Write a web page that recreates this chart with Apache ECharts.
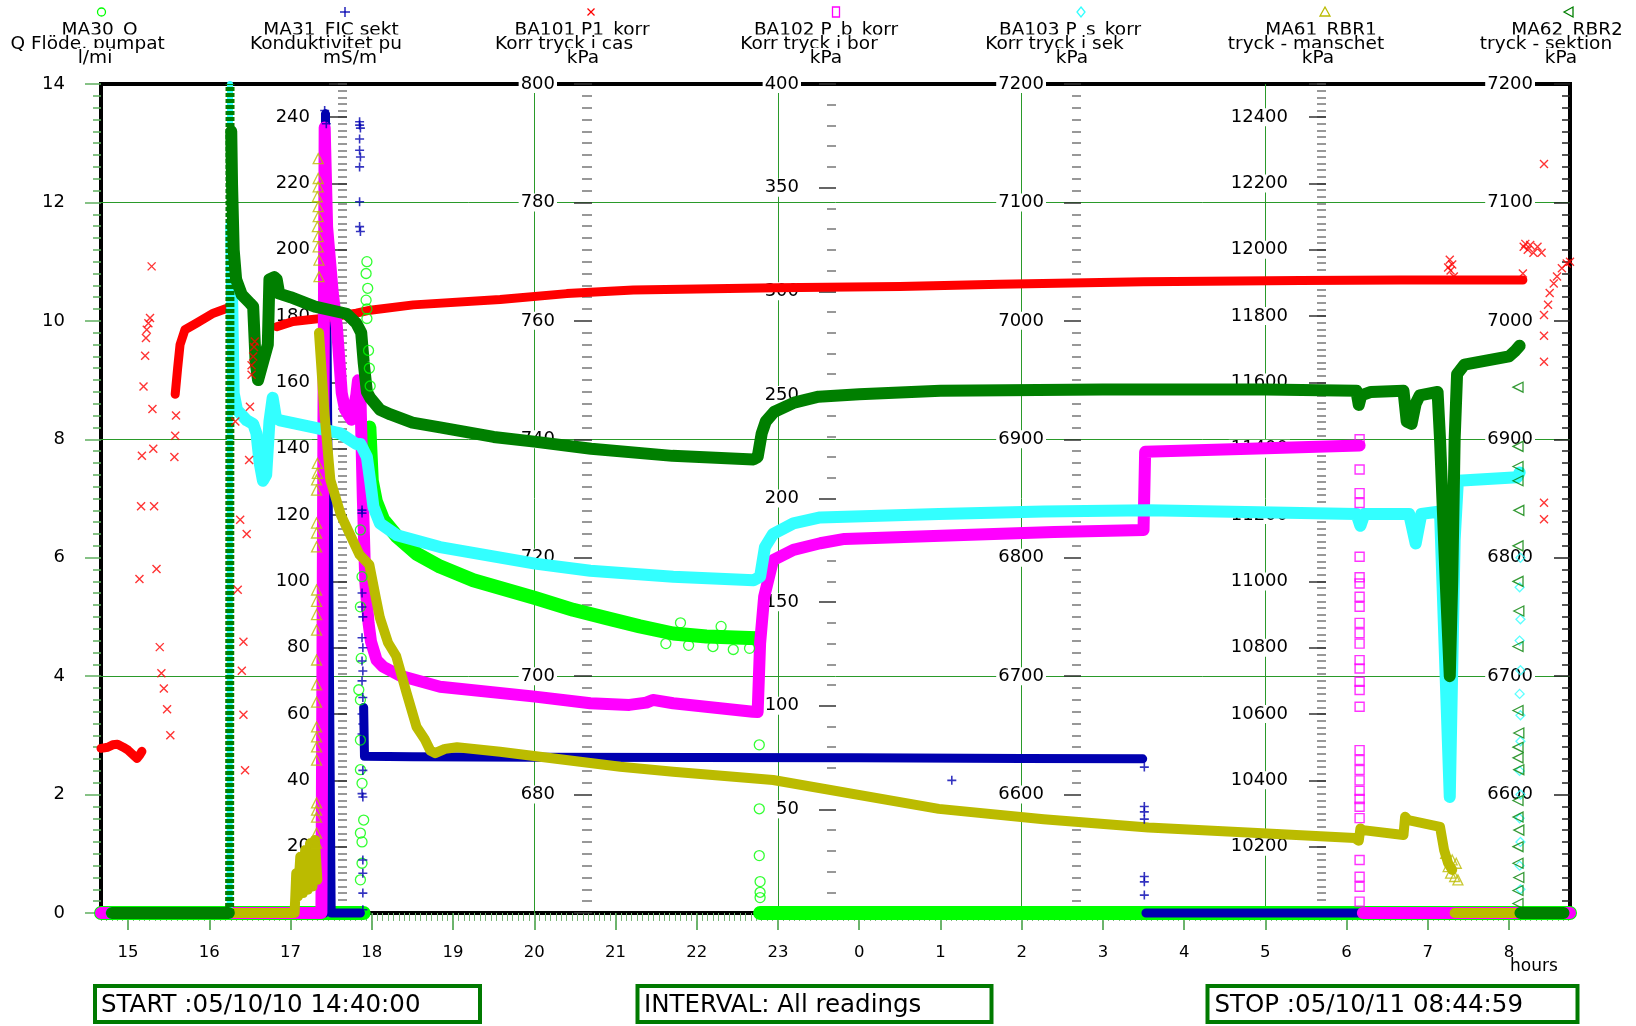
<!DOCTYPE html>
<html>
<head>
<meta charset="utf-8">
<script src="https://cdn.jsdelivr.net/npm/echarts@6.0.0/dist/echarts.min.js"></script>
<style>
html,body{margin:0;padding:0;background:#fff;}
#chart{width:1636px;height:1026px;}
</style>
</head>
<body>
<div id="chart"></div>
<script>
// ================= DATA =================
// time axis in decimal hours since 05/10/10 00:00 (next day = 24 + h)
const X_MIN = 14 + 40 / 60;   // START 05/10/10 14:40:00
const X_MAX = 32 + 45 / 60;   // STOP  05/10/11 08:44:59
const hourTicks = [15, 16, 17, 18, 19, 20, 21, 22, 23, 24, 25, 26, 27, 28, 29, 30, 31, 32];
const gridHours = [17, 20, 23, 26, 29, 32];
const minorTickStepMin = 4;

// MA30 Q  (l/min)
const ma30Line = [[14.667, 0], [17.90, 0], [17.92, null], [17.97, 8.2], [18.00, 7.3], [18.05, 6.95], [18.14, 6.64], [18.31, 6.36], [18.55, 6.07], [18.84, 5.85], [19.25, 5.62], [20.01, 5.32], [20.48, 5.12], [20.89, 4.98], [21.30, 4.84], [21.71, 4.72], [22.12, 4.67], [22.74, 4.64], [22.76, null], [22.78, 0], [32.75, 0]];
const ma30Pts = [[17.94, 11.0], [17.93, 10.8], [17.95, 10.55], [17.93, 10.35], [17.94, 10.2], [17.94, 10.04], [17.96, 9.5], [17.97, 9.2], [17.98, 8.9], [17.86, 6.47], [17.88, 5.68], [17.86, 5.17], [17.87, 4.3], [17.84, 3.77], [17.86, 3.6], [17.86, 2.92], [17.86, 2.42], [17.88, 2.19], [17.9, 1.57], [17.86, 1.35], [17.88, 1.2], [17.88, 0.84], [17.86, 0.56], [22.77, 2.84], [22.77, 1.76], [22.77, 0.97], [22.78, 0.53], [22.78, 0.35], [22.78, 0.26],
  [21.62, 4.55], [21.9, 4.52], [22.2, 4.5], [22.45, 4.45], [22.65, 4.47], [21.8, 4.9], [22.3, 4.84]];

// MA31 FIC sekt  (mS/m)
const ma31Line = [[14.667, 0], [17.42, 0], [17.43, 241], [17.50, 0], [17.86, 0], [17.87, null], [17.90, 62], [17.91, 47.3], [18.5, 47.1], [20, 47], [22, 46.9], [24, 46.8], [26, 46.6], [27.49, 46.5], [27.50, null], [27.53, 0], [32.75, 0]];
const ma31Pts = [[17.43, 241], [17.44, 238], [17.42, 242], [17.85, 238.6], [17.85, 237.6], [17.86, 236.7], [17.85, 233.4], [17.85, 230], [17.86, 228], [17.85, 225], [17.85, 214.5], [17.85, 207], [17.86, 205.5], [17.88, 121.5], [17.88, 120.6], [17.88, 96.5], [17.88, 92.3], [17.89, 89.3], [17.88, 83], [17.89, 80], [17.88, 76], [17.89, 73], [17.88, 70], [17.89, 65], [17.88, 60], [17.89, 57], [17.88, 54], [17.89, 43], [17.88, 36], [17.89, 35], [17.89, 16], [17.89, 12], [17.89, 6], [17.89, 1], [25.14, 40], [27.51, 44], [27.51, 32.1], [27.51, 30.5], [27.51, 28.3], [27.51, 11], [27.51, 9.4], [27.51, 5.4]];

// BA101 P1_korr  (kPa)
const ba101Line = [[14.667, 687.8], [14.75, 688.0], [14.81, 688.4], [14.87, 688.5], [14.94, 688.0], [15.00, 687.5], [15.07, 686.6], [15.11, 686.1], [15.14, 686.6], [15.17, 687.3], [15.18, null],
  [15.58, 747.6], [15.61, 752], [15.64, 756], [15.70, 758.5], [15.84, 759.6], [16.05, 761.3], [16.21, 762.1], [16.22, null],
  [16.83, 759], [17.03, 759.9], [17.44, 760.5], [17.81, 761.3], [17.98, 761.8], [18.51, 762.7], [19.58, 763.6], [20.4, 764.6], [21.22, 765.2], [22.98, 765.6], [24.5, 765.8], [25.73, 766.2], [27.5, 766.6], [29.43, 766.8], [30.66, 766.9], [32.17, 766.9]];
const ba101Pts = [[15.29, 769.2], [15.27, 760.5], [15.25, 759.6], [15.23, 758.5], [15.22, 757.1], [15.21, 754.1], [15.19, 748.9], [15.30, 745.1], [15.17, 737.2], [15.16, 728.7], [15.14, 716.4],
  [15.31, 738.4], [15.32, 728.7], [15.35, 718.1], [15.39, 704.9], [15.41, 700.5], [15.44, 697.9], [15.48, 694.4], [15.52, 690],
  [15.58, 740.6], [15.59, 744], [15.57, 737],
  [16.32, 743], [16.5, 745.5], [16.52, 750.9], [16.54, 754], [16.55, 755.6], [16.56, 756.5], [16.49, 736.5], [16.38, 726.4], [16.35, 714.6], [16.42, 705.8], [16.4, 700.9], [16.42, 693.5], [16.44, 684.1], [16.46, 724], [16.52, 752.5],
  [31.25, 769], [31.27, 770.3], [31.28, 768.5], [31.3, 769.5], [31.32, 767.5],
  [32.17, 768], [32.18, 772.5], [32.2, 773], [32.23, 772], [32.26, 772.8], [32.3, 771.5], [32.35, 772.5], [32.4, 771.5], [32.43, 786.5], [32.43, 761], [32.43, 757.5], [32.43, 753.1], [32.43, 729.3], [32.43, 726.5],
  [32.48, 762.7], [32.5, 764.7], [32.55, 766.3], [32.59, 767.5], [32.65, 768.9], [32.71, 769.7], [32.75, 770]];

// BA102 P_b_korr  (kPa)
const ba102Line = [[14.667, 0], [17.38, 0], [17.42, 379], [17.45, 331], [17.52, 299], [17.57, 283], [17.63, 251], [17.67, 243], [17.75, 238], [17.81, 250], [17.83, 257], [17.86, 250], [17.89, 200], [17.92, 160], [17.96, 140], [17.99, 131], [18.06, 122], [18.14, 118.8], [18.35, 114.5], [18.84, 109.2], [20.01, 104.4], [20.69, 101.2], [21.17, 100.4], [21.38, 101.5], [21.46, 102.8], [21.71, 101.2], [22.69, 97.1], [22.75, 97], [22.78, 130], [22.83, 152.6], [22.94, 170.3], [23.19, 175.2], [23.52, 178.4], [23.82, 180.5], [25.1, 182.2], [26.4, 183.8], [27.5, 184.8], [27.52, 222.5], [28.8, 224], [30.16, 225.6], [30.17, null], [30.2, 0], [32.75, 0]];
const ba102Pts = [[30.16, 228.6], [30.16, 214], [30.16, 202.6], [30.16, 197.8], [30.16, 171.9], [30.16, 162], [30.16, 159], [30.16, 152.6], [30.16, 147.8], [30.16, 140], [30.16, 135], [30.16, 130], [30.16, 122], [30.16, 118], [30.16, 111.6], [30.16, 107.6], [30.16, 99.5], [30.16, 78.6], [30.16, 73.8], [30.16, 69], [30.16, 64], [30.16, 59], [30.16, 55], [30.16, 51.3], [30.16, 45.8], [30.16, 25.6], [30.16, 17.5], [30.16, 12.7], [30.16, 5.5]];

// BA103 P_s_korr  (kPa)
const ba103Rise = [[16.25, 6500], [16.255, 7200]];
const ba103Line = [[14.8, 6500], [16.24, 6500], [16.245, null], [16.27, 7080], [16.28, 7023], [16.30, 6939], [16.34, 6925], [16.46, 6916], [16.54, 6913], [16.58, 6905], [16.62, 6880], [16.66, 6865], [16.70, 6870], [16.74, 6915], [16.78, 6935], [16.82, 6918], [16.87, 6916], [17.28, 6910], [17.61, 6905], [17.81, 6896], [17.86, 6896], [17.94, 6885], [17.98, 6865], [18.02, 6843], [18.1, 6829], [18.31, 6819], [18.84, 6809], [20.01, 6795], [20.69, 6789], [21.71, 6784], [22.7, 6781], [22.78, 6784], [22.84, 6809], [22.94, 6820], [23.19, 6829], [23.52, 6834], [24.98, 6837], [26.27, 6839], [27.56, 6840], [30.12, 6837], [30.17, 6827], [30.22, 6837], [30.77, 6837], [30.85, 6812], [30.92, 6837], [31.15, 6839], [31.27, 6598], [31.33, 6815], [31.37, 6865], [32.1, 6868], [32.13, 6872], [32.135, null], [32.15, 6500], [32.6, 6500]];
const ba103Pts = [[32.14, 6800], [32.13, 6775], [32.14, 6748], [32.13, 6730], [32.14, 6705], [32.13, 6685], [32.14, 6667], [32.14, 6645], [32.13, 6620], [32.14, 6600], [32.13, 6580], [32.14, 6560], [32.13, 6540], [32.14, 6520]];

// MA61 RBR1  (kPa)
const ma61Line = [[14.8, 10000], [17.05, 10000], [17.07, 10120], [17.09, 10050], [17.12, 10170], [17.15, 10060], [17.18, 10190], [17.21, 10070], [17.24, 10210], [17.27, 10080], [17.30, 10220], [17.33, 10100], [17.34, null],
  [17.35, 11750], [17.42, 11500], [17.49, 11306], [17.62, 11200], [17.85, 11080], [17.97, 11050], [18.05, 10950], [18.1, 10890], [18.2, 10815], [18.3, 10775], [18.43, 10662], [18.55, 10562], [18.65, 10525], [18.72, 10490], [18.78, 10482], [18.9, 10495], [19.05, 10500], [19.58, 10486], [20.07, 10471], [21.06, 10441], [21.71, 10426], [22.94, 10401], [24.98, 10314], [26.27, 10283], [27.56, 10258], [28.84, 10242], [30.1, 10226], [30.15, 10218], [30.17, 10255], [30.2, 10250], [30.7, 10235], [30.72, 10290], [30.76, 10280], [31.15, 10260], [31.2, 10190], [31.25, 10150], [31.3, 10130], [31.31, null], [31.33, 10000], [32.6, 10000]];
const ma61Pts = [[17.34, 12275], [17.34, 12215], [17.34, 12190], [17.33, 12160], [17.34, 12130], [17.34, 12100], [17.33, 12070], [17.34, 12040], [17.34, 12009], [17.35, 11969], [17.35, 11919], [17.33, 11356], [17.33, 11326], [17.32, 11306], [17.32, 11275], [17.32, 11176], [17.32, 11146], [17.32, 11104], [17.32, 10974], [17.32, 10940], [17.32, 10900], [17.32, 10853], [17.32, 10763], [17.32, 10688], [17.32, 10636], [17.32, 10561], [17.32, 10531], [17.32, 10501], [17.32, 10461], [17.32, 10332], [17.32, 10310], [17.32, 10289], [17.32, 10241], [17.32, 10211],
  [31.22, 10180], [31.25, 10140], [31.28, 10120], [31.3, 10160], [31.33, 10110], [31.35, 10150], [31.37, 10100]];

// MA62 RBR2  (kPa)
const ma62Rise = [[16.25, 6500], [16.255, 7200]];
const ma62Line = [[14.8, 6500], [16.24, 6500], [16.245, null], [16.27, 7160], [16.28, 7115], [16.30, 7060], [16.33, 7035], [16.40, 7022], [16.50, 7015], [16.54, 7012], [16.57, 6965], [16.60, 6950], [16.66, 6965], [16.72, 6980], [16.74, 7035], [16.80, 7037], [16.83, 7035], [16.86, 7023], [17.00, 7020], [17.30, 7012], [17.69, 7006], [17.81, 6998], [17.87, 6990], [17.90, 6965], [17.94, 6940], [17.98, 6935], [18.10, 6925], [18.23, 6921], [18.50, 6914], [18.84, 6910], [19.50, 6902], [20.00, 6898], [20.70, 6892], [21.70, 6886], [22.70, 6883], [22.75, 6885], [22.80, 6905], [22.85, 6915], [22.95, 6923], [23.20, 6931], [23.50, 6936], [24.00, 6938], [25.00, 6941], [27.00, 6942], [29.00, 6942], [30.12, 6941], [30.15, 6929], [30.18, 6937], [30.30, 6940], [30.70, 6941], [30.74, 6915], [30.80, 6913], [30.85, 6930], [30.90, 6937], [31.12, 6940], [31.15, 6900], [31.22, 6780], [31.27, 6700], [31.30, 6780], [31.33, 6900], [31.36, 6955], [31.45, 6963], [32.00, 6970], [32.08, 6975], [32.13, 6979], [32.135, null], [32.14, 6500], [32.67, 6500]];
const ma62Pts = [[32.11, 6944], [32.11, 6894], [32.11, 6877], [32.11, 6865], [32.12, 6840], [32.11, 6810], [32.11, 6780], [32.12, 6755], [32.11, 6725], [32.11, 6671], [32.12, 6652], [32.11, 6640], [32.11, 6631], [32.12, 6621], [32.11, 6595], [32.11, 6581], [32.12, 6570], [32.11, 6556], [32.11, 6542], [32.12, 6530], [32.11, 6519], [32.11, 6508], [14.8, 6500]];

// header texts
const headNames = ['MA30_Q', 'MA31_FIC sekt', 'BA101 P1_korr', 'BA102 P_b_korr', 'BA103 P_s_korr', 'MA61_RBR1', 'MA62_RBR2'];
const headDescs = ['Q Flöde, pumpat', 'Konduktivitet pu', 'Korr tryck i cas', 'Korr tryck i bor', 'Korr tryck i sek', 'tryck - manschet', 'tryck - sektion'];
const headUnits = ['l/mi', 'mS/m', 'kPa', 'kPa', 'kPa', 'kPa', 'kPa'];
const boxTexts = ['START :05/10/10 14:40:00', 'INTERVAL: All readings', 'STOP :05/10/11 08:44:59'];

// ================= STYLE / LAYOUT =================
const FONT = '"DejaVu Sans", Verdana, sans-serif';
const C = {green: '#00ff00', blue: '#0000b0', red: '#ff0000', mag: '#ff00ff', cyan: '#33ffff', olive: '#bbbb00', dkgreen: '#007f00'};
const GL = 101, GT = 84, GW = 1469, GH = 829;

const minorTicks = [];
for (let m = 0; m <= 1084; m += minorTickStepMin) minorTicks.push(X_MIN + m / 60);

const lblBase = {fontSize: 18, color: '#000', fontFamily: FONT, backgroundColor: '#fff', padding: [0, 2], margin: 35, showMinLabel: true, showMaxLabel: true, hideOverlap: false};
function hideVals(list) { return v => (list.indexOf(v) >= 0 ? '' : String(v)); }

function innerY(o) {
  return Object.assign({
    type: 'value', position: 'left', z: 1,
    axisLine: {show: false, onZero: false},
    splitLine: {show: false}
  }, o);
}

const yAxes = [
  innerY({offset: 0, min: 0, max: 14, interval: 2,
    axisTick: {show: true, length: 16, lineStyle: {color: '#5fae5f', width: 1.5}},
    minorTick: {show: true, splitNumber: 10, length: 8, lineStyle: {color: '#5fae5f', width: 1.5}},
    axisLabel: Object.assign({}, lblBase, {margin: 34, backgroundColor: 'transparent'})}),
  innerY({offset: -246, min: 0, max: 250, interval: 2,
    axisTick: {show: true, length: 9, lineStyle: {color: '#777', width: 1.5}},
    axisLabel: {show: false}}),
  innerY({offset: -246, min: 0, max: 250, interval: 20,
    axisTick: {show: true, length: 18, lineStyle: {color: '#333', width: 1.5}},
    axisLabel: Object.assign({}, lblBase, {formatter: hideVals([0, 250])})}),
  innerY({offset: -491, min: 660, max: 800, interval: 20,
    axisTick: {show: true, length: 18, lineStyle: {color: '#333', width: 1.5}},
    minorTick: {show: true, splitNumber: 10, length: 10, lineStyle: {color: '#777', width: 1.5}},
    axisLabel: Object.assign({}, lblBase, {formatter: hideVals([660])})}),
  innerY({offset: -735, min: 0, max: 400, interval: 50,
    axisTick: {show: true, length: 17, lineStyle: {color: '#333', width: 1.5}},
    minorTick: {show: true, splitNumber: 5, length: 9, lineStyle: {color: '#777', width: 1.5}},
    axisLabel: Object.assign({}, lblBase, {formatter: hideVals([0])})}),
  innerY({offset: -980, min: 6500, max: 7200, interval: 100,
    axisTick: {show: true, length: 17, lineStyle: {color: '#333', width: 1.5}},
    minorTick: {show: true, splitNumber: 10, length: 9, lineStyle: {color: '#777', width: 1.5}},
    axisLabel: Object.assign({}, lblBase, {formatter: hideVals([6500])})}),
  innerY({offset: -1225, min: 10000, max: 12500, interval: 20,
    axisTick: {show: true, length: 9, lineStyle: {color: '#777', width: 1.5}},
    axisLabel: {show: false}}),
  innerY({offset: -1225, min: 10000, max: 12500, interval: 200,
    axisTick: {show: true, length: 17, lineStyle: {color: '#333', width: 1.5}},
    axisLabel: Object.assign({}, lblBase, {margin: 36, formatter: hideVals([10000, 12500])})}),
  innerY({position: 'right', offset: 0, min: 6500, max: 7200, interval: 100,
    axisTick: {show: true, inside: true, length: 16, lineStyle: {color: '#222', width: 1.5}},
    minorTick: {show: true, splitNumber: 10, length: 8, lineStyle: {color: '#222', width: 1.5}},
    axisLabel: Object.assign({}, lblBase, {inside: true, formatter: hideVals([6500])})}),
  innerY({z: 0, offset: 0, min: 0, max: 14, interval: 4,
    axisTick: {show: false}, axisLabel: {show: false},
    splitLine: {show: true, showMinLine: false, showMaxLine: false, lineStyle: {color: '#2a9a2a', width: 1}}})
];

const xBase = {type: 'value', min: X_MIN, max: X_MAX, position: 'bottom', z: 0,
  axisLine: {show: false, onZero: false}, splitLine: {show: false}};
const xAxes = [
  Object.assign({}, xBase, {
    axisTick: {show: true, customValues: hourTicks, length: 17, lineStyle: {color: '#3c9c3c', width: 1.5}},
    axisLabel: {show: true, customValues: hourTicks, formatter: v => String(Math.round(v) % 24), margin: 31, fontSize: 16.5, color: '#000', fontFamily: FONT}}),
  Object.assign({}, xBase, {
    axisTick: {show: true, customValues: minorTicks, length: 8, lineStyle: {color: '#7ab87a', width: 1}},
    axisLabel: {show: false}}),
  Object.assign({}, xBase, {
    axisTick: {show: false, customValues: gridHours},
    axisLabel: {show: false},
    splitLine: {show: true, showMinLine: false, showMaxLine: false, lineStyle: {color: '#2a9a2a', width: 1}}})
];

function band(data, yIdx, color, width, dash) {
  return {type: 'line', xAxisIndex: 0, yAxisIndex: yIdx, data: data, showSymbol: false, symbol: 'none',
    connectNulls: false, clip: false, silent: true, animation: false, z: 2,
    lineStyle: {color: color, width: width, join: 'round', cap: dash ? 'butt' : 'round', type: dash || 'solid'}};
}
function dots(data, yIdx, symbol, size, color, bw) {
  return {type: 'scatter', xAxisIndex: 0, yAxisIndex: yIdx, data: data, symbol: symbol, symbolSize: size,
    clip: false, silent: true, animation: false, z: 2,
    itemStyle: {color: 'transparent', borderColor: color, borderWidth: bw}};
}
const SYM = {
  plus: 'path://M5,0L5,10M0,5L10,5',
  cross: 'path://M0,0L10,10M10,0L0,10',
  ltri: 'path://M0,5L10,0L10,10Z'
};

const series = [
  band(ma30Line, 0, C.green, 14), dots(ma30Pts, 0, 'circle', 10, C.green, 1.3),
  band(ma31Line, 2, C.blue, 9), dots(ma31Pts, 2, SYM.plus, 9, C.blue, 1.6),
  band(ba101Line, 3, C.red, 9), dots(ba101Pts, 3, SYM.cross, 8, C.red, 1.4),
  band(ba102Line, 4, C.mag, 12), dots(ba102Pts, 4, 'rect', 9, C.mag, 1.4),
  band(ba103Rise, 5, C.cyan, 6),
  band(ba103Line, 5, C.cyan, 12), dots(ba103Pts, 5, 'diamond', 9, C.cyan, 1.3),
  band(ma61Line, 7, C.olive, 10), dots(ma61Pts, 7, 'triangle', 10, C.olive, 1.3),
  band(ma62Rise, 8, C.dkgreen, 9, [4, 2]),
  band(ma62Line, 8, C.dkgreen, 12), dots(ma62Pts, 8, SYM.ltri, 10, C.dkgreen, 1.3)
];

// ---------- header / boxes graphics ----------
const symX = [101.5, 345, 591, 836, 1081, 1325, 1569];
const nameX = [99.5, 331, 582, 826, 1070, 1321, 1567];
const descX = [87.6, 326, 564, 809, 1054.5, 1306, 1546];
const unitX = [95, 350, 583, 826, 1072, 1318, 1561];
const symColors = [C.green, C.blue, C.red, C.mag, C.cyan, C.olive, C.dkgreen];
const graphics = [];
function addSym(i, x, y) {
  const st = {fill: 'none', stroke: symColors[i], lineWidth: 1.3};
  if (i === 0) graphics.push({type: 'circle', shape: {cx: x, cy: y, r: 4}, style: st, silent: true});
  else if (i === 1) {
    graphics.push({type: 'line', shape: {x1: x - 5, y1: y, x2: x + 5, y2: y}, style: st, silent: true});
    graphics.push({type: 'line', shape: {x1: x, y1: y - 5, x2: x, y2: y + 5}, style: st, silent: true});
  } else if (i === 2) {
    graphics.push({type: 'line', shape: {x1: x - 3.5, y1: y - 3.5, x2: x + 3.5, y2: y + 3.5}, style: st, silent: true});
    graphics.push({type: 'line', shape: {x1: x + 3.5, y1: y - 3.5, x2: x - 3.5, y2: y + 3.5}, style: st, silent: true});
  } else if (i === 3) graphics.push({type: 'rect', shape: {x: x - 3.5, y: y - 5, width: 7, height: 10}, style: st, silent: true});
  else if (i === 4) graphics.push({type: 'polygon', shape: {points: [[x, y - 5], [x + 4, y], [x, y + 5], [x - 4, y]]}, style: st, silent: true});
  else if (i === 5) graphics.push({type: 'polygon', shape: {points: [[x, y - 5], [x + 5, y + 4], [x - 5, y + 4]]}, style: st, silent: true});
  else graphics.push({type: 'polygon', shape: {points: [[x - 5, y], [x + 4, y - 5], [x + 4, y + 5]]}, style: st, silent: true});
}
const HF = '18.5px ' + FONT;
for (let i = 0; i < 7; i++) {
  addSym(i, symX[i], 12);
  graphics.push({type: 'text', x: nameX[i], y: 30, style: {text: headNames[i], font: HF, fill: '#000', align: 'center', verticalAlign: 'middle'}, silent: true});
}
for (let i = 0; i < 7; i++) {
  graphics.push({type: 'text', x: descX[i], y: 44.5, style: {text: headDescs[i], font: HF, fill: '#000', align: 'center', verticalAlign: 'middle', backgroundColor: '#fff', padding: [1, 1, 0, 1]}, silent: true});
}
for (let i = 0; i < 7; i++) {
  graphics.push({type: 'text', x: unitX[i], y: 58, style: {text: headUnits[i], font: HF, fill: '#000', align: 'center', verticalAlign: 'middle', backgroundColor: '#fff', padding: [1, 1, 0, 1]}, silent: true});
}
const boxes = [[95, 986, 385, 36, 101], [637.5, 986, 354, 36, 644], [1207.5, 986, 370, 36, 1214.5]];
boxes.forEach((b, i) => {
  graphics.push({type: 'rect', shape: {x: b[0], y: b[1], width: b[2], height: b[3]}, style: {fill: '#fff', stroke: '#007a00', lineWidth: 4}, silent: true});
  graphics.push({type: 'text', x: b[4], y: 1005.5, style: {text: boxTexts[i], font: '24.5px ' + FONT, fill: '#000', align: 'left', verticalAlign: 'middle'}, silent: true});
});
graphics.push({type: 'text', x: 1510, y: 967, style: {text: 'hours', font: '17px ' + FONT, fill: '#000', align: 'left', verticalAlign: 'middle'}, silent: true});

const chart = echarts.init(document.getElementById('chart'), null, {renderer: 'canvas'});
chart.setOption({
  animation: false,
  backgroundColor: '#fff',
  textStyle: {fontFamily: FONT},
  grid: {left: GL, top: GT, width: GW, height: GH, show: true, borderColor: '#000', borderWidth: 4, backgroundColor: 'transparent', containLabel: false, z: 0},
  xAxis: xAxes,
  yAxis: yAxes,
  series: series,
  graphic: graphics
});
</script>
</body>
</html>
